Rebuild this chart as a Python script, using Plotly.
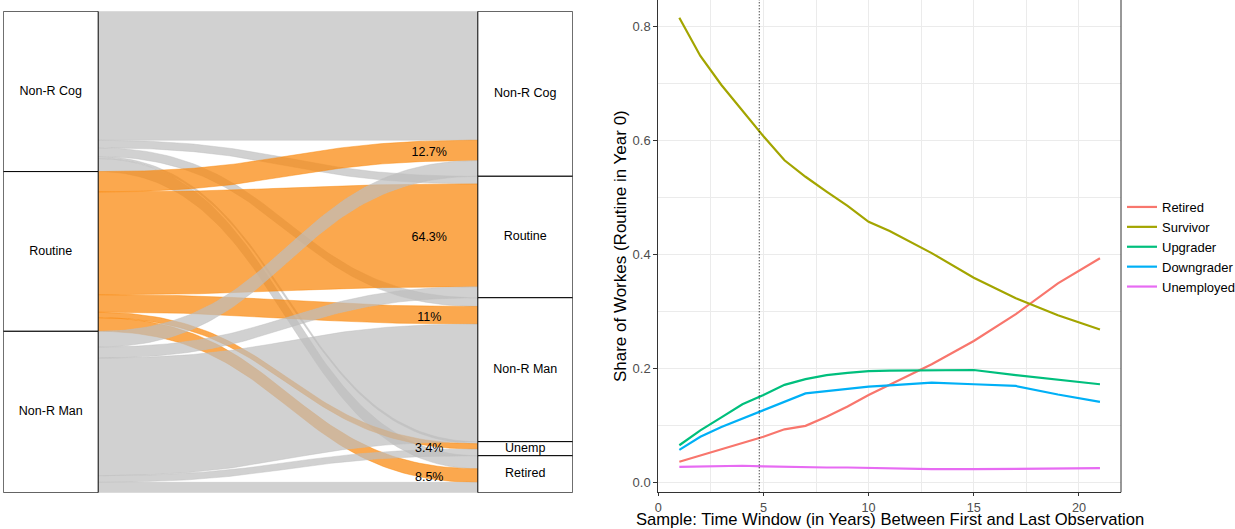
import numpy as np
import plotly.graph_objects as go

# ---------------- Left panel: alluvial flows (share of all workers, %) ----------------
origins = ["Non-R Cog", "Routine", "Non-R Man"]
destinations = ["Non-R Cog", "Routine", "Non-R Man", "Unemp", "Retired"]
flow_nrc = [26.77, 1.58, 1.81, 0.42, 2.70]          # from Non-R Cog
routine_share = 33.2                                # Routine share of total
routine_pct = [12.7, 64.3, 11, 3.4, 8.5]            # Routine -> destination, % of Routine
flow_nrm = [3.27, 2.29, 24.42, 1.37, 2.16]          # from Non-R Man

# ---------------- Right panel: shares over time window ----------------
years = [1, 2, 3, 4, 5, 6, 7, 8, 9, 10, 11, 13, 15, 17, 19, 21]
retired = [0.036, 0.047, 0.058, 0.069, 0.080, 0.093, 0.099, 0.115, 0.133, 0.153, 0.171,
           0.207, 0.248, 0.295, 0.349, 0.393]
survivor = [0.815, 0.748, 0.697, 0.651, 0.607, 0.565, 0.536, 0.510, 0.485, 0.457, 0.441,
            0.402, 0.359, 0.323, 0.293, 0.268]
upgrader = [0.065, 0.091, 0.114, 0.137, 0.153, 0.171, 0.181, 0.188, 0.192, 0.195, 0.196,
            0.196, 0.197, 0.188, 0.180, 0.172]
downgrader = [0.057, 0.080, 0.097, 0.112, 0.126, 0.141, 0.156, 0.160, 0.164, 0.168, 0.170,
              0.175, 0.172, 0.169, 0.154, 0.141]
unemployed = [0.027, 0.028, 0.029, 0.029, 0.028, 0.027, 0.026, 0.026, 0.026, 0.025, 0.025,
              0.023, 0.023, 0.024, 0.024, 0.025]
series_names = ["Retired", "Survivor", "Upgrader", "Downgrader", "Unemployed"]
series_colors = ["#F8766D", "#A3A500", "#00BF7D", "#00B0F6", "#E76BF3"]
cutoff_year = 4.8

x_title = "Sample: Time Window (in Years) Between First and Last Observation"
y_title = "Share of Workes (Routine in Year 0)"

FONT = "Liberation Sans, Arial, Helvetica, sans-serif"

flows = np.array([
    flow_nrc,
    [routine_share * p / 100 for p in routine_pct],
    flow_nrm,
])
total = flows.sum()
row_tot = flows.sum(axis=1)
col_tot = flows.sum(axis=0)

# node tops (y measured upward, top = total)
left_top = [total - row_tot[:i].sum() for i in range(len(origins))]
right_top = [total - col_tot[:j].sum() for j in range(len(destinations))]

# lode positions
ly = np.zeros_like(flows)   # top of lode at left
ry = np.zeros_like(flows)   # top of lode at right
for i in range(len(origins)):
    for j in range(len(destinations)):
        ly[i, j] = left_top[i] - flows[i, :j].sum()
        ry[i, j] = right_top[j] - flows[:i, j].sum()


def bez(y0, y1, n=80):
    s = np.linspace(0, 1, n)
    x = 1.5 * s * (1 - s) + s ** 3
    y = y0 + (y1 - y0) * (3 * (1 - s) * s ** 2 + s ** 3)
    return x, y


fig = go.Figure()

ORANGE = "rgba(250,135,10,0.72)"
GREY = "rgba(190,190,190,0.70)"

for i in range(len(origins)):
    col = ORANGE if origins[i] == "Routine" else GREY
    for j in range(len(destinations)):
        v = flows[i, j]
        xt, yt = bez(ly[i, j], ry[i, j])
        xb, yb = bez(ly[i, j] - v, ry[i, j] - v)
        xs = np.concatenate([xt, xb[::-1], xt[:1]])
        ys = np.concatenate([yt, yb[::-1], yt[:1]])
        fig.add_trace(go.Scatter(x=xs, y=ys, mode="lines", fill="toself",
                                 fillcolor=col, line=dict(color=col, width=0.6),
                                 hoverinfo="skip", showlegend=False,
                                 xaxis="x", yaxis="y"))

BOXW = 0.25
# node boxes
for i, name in enumerate(origins):
    t, b = left_top[i], left_top[i] - row_tot[i]
    fig.add_trace(go.Scatter(x=[-BOXW, 0, 0, -BOXW, -BOXW], y=[t, t, b, b, t], mode="lines",
                             fill="toself", fillcolor="white",
                             line=dict(color="black", width=1),
                             hoverinfo="skip", showlegend=False, xaxis="x", yaxis="y"))
for j, name in enumerate(destinations):
    t, b = right_top[j], right_top[j] - col_tot[j]
    fig.add_trace(go.Scatter(x=[1, 1 + BOXW, 1 + BOXW, 1, 1], y=[t, t, b, b, t], mode="lines",
                             fill="toself", fillcolor="white",
                             line=dict(color="black", width=1),
                             hoverinfo="skip", showlegend=False, xaxis="x", yaxis="y"))

# node labels
fig.add_trace(go.Scatter(
    x=[-BOXW / 2] * len(origins) + [1 + BOXW / 2] * len(destinations),
    y=[left_top[i] - row_tot[i] / 2 for i in range(len(origins))]
      + [right_top[j] - col_tot[j] / 2 for j in range(len(destinations))],
    text=origins + destinations, mode="text",
    textfont=dict(family=FONT, size=12.5, color="black"),
    hoverinfo="skip", showlegend=False, xaxis="x", yaxis="y"))

# percentage labels on Routine flows (at the destination lode, slightly lower)
lab_x = 0.872
lab_drop = total * 2.5 / 481.4
ri = origins.index("Routine")
lyv = [ry[ri, j] - flows[ri, j] / 2 - lab_drop for j in range(len(destinations))]
fig.add_trace(go.Scatter(x=[lab_x] * len(destinations), y=lyv,
                         text=[f"{p:g}%" for p in routine_pct], mode="text",
                         textfont=dict(family=FONT, size=12.5, color="black"),
                         hoverinfo="skip", showlegend=False, xaxis="x", yaxis="y"))

# ---------------- right panel lines ----------------
for name, vals, c in zip(series_names, [retired, survivor, upgrader, downgrader, unemployed],
                         series_colors):
    fig.add_trace(go.Scatter(x=years, y=vals, mode="lines", name=name,
                             line=dict(color=c, width=2.2), xaxis="x2", yaxis="y2"))

fig.add_shape(type="line", xref="x2", yref="y2 domain", x0=cutoff_year, x1=cutoff_year,
              y0=0, y1=1, line=dict(color="black", width=1, dash="1px,2px"))
fig.add_shape(type="line", xref="x2 domain", yref="y2 domain", x0=1, x1=1, y0=0, y1=1,
              line=dict(color="#333333", width=1))

W, H = 1235, 529
grid = "#EBEBEB"
X2_DOM = [658.3 / W, 1121 / W]

fig.add_annotation(text=x_title, xref="paper", yref="paper", x=sum(X2_DOM) / 2, y=0,
                   xanchor="center", yanchor="bottom", showarrow=False, yshift=-2,
                   font=dict(size=16.6, color="black", family=FONT))

fig.update_layout(
    width=W, height=H, margin=dict(l=0, r=0, t=0, b=0, autoexpand=False),
    paper_bgcolor="white", plot_bgcolor="white",
    font=dict(family=FONT, color="black"),
    xaxis=dict(domain=[3.3 / W, 572.7 / W], range=[-BOXW, 1 + BOXW], visible=False,
               fixedrange=True),
    yaxis=dict(domain=[1 - 492.7 / H, 1 - 11.3 / H], range=[0, total], visible=False,
               fixedrange=True),
    xaxis2=dict(domain=X2_DOM, range=[0, 22], anchor="y2",
                tickvals=[0, 5, 10, 15, 20], showgrid=True, gridcolor=grid, gridwidth=1,
                minor=dict(dtick=2.5, tick0=0, showgrid=True, gridcolor=grid, gridwidth=0.6),
                showline=True, linecolor="#333333", linewidth=1,
                ticks="outside", ticklen=3, tickcolor="#333333", zeroline=False,
                tickfont=dict(size=12.7, color="#4D4D4D"), automargin=False),
    yaxis2=dict(domain=[1 - 492.3 / H, 1], range=[-0.01754, 0.8461], anchor="x2",
                tickvals=[0, 0.2, 0.4, 0.6, 0.8], tickformat=".1f",
                showgrid=True, gridcolor=grid, gridwidth=1,
                minor=dict(dtick=0.1, tick0=0, showgrid=True, gridcolor=grid, gridwidth=0.6),
                showline=True, linecolor="#333333", linewidth=1,
                ticks="outside", ticklen=4, tickcolor="#333333", zeroline=False,
                tickfont=dict(size=13, color="#4D4D4D"), automargin=False,
                title=dict(text=y_title, font=dict(size=17, color="black"), standoff=1)),
    legend=dict(x=1122 / W, xanchor="left", y=1 - 247 / H, yanchor="middle",
                font=dict(size=13, color="black"), bgcolor="rgba(0,0,0,0)",
                tracegroupgap=0),
)

fig.write_html("out.html")
